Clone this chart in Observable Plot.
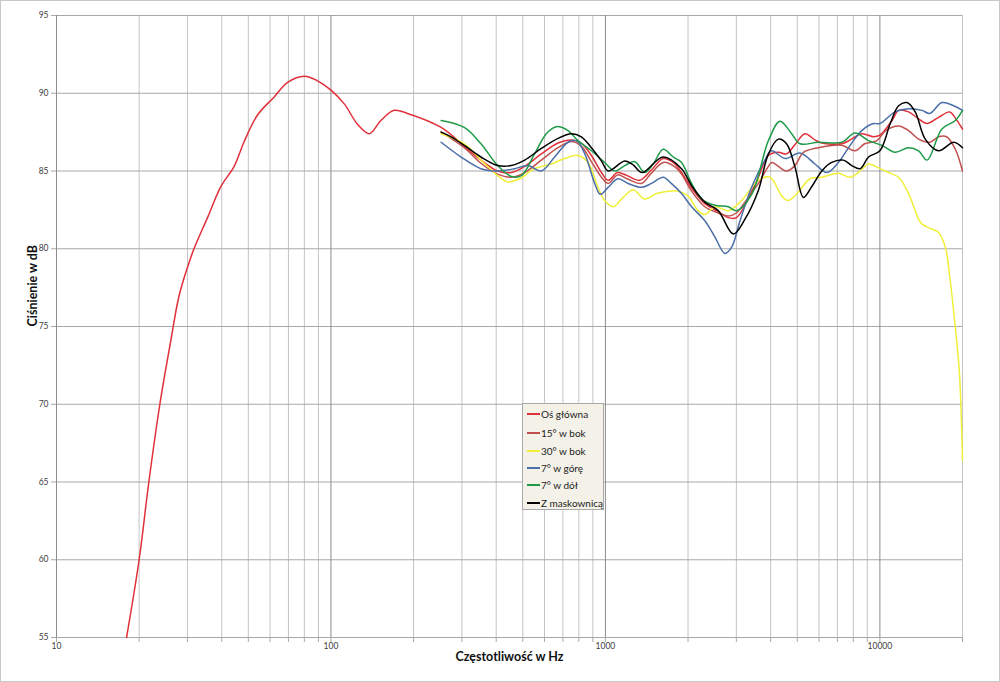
<!DOCTYPE html>
<html>
<head>
<meta charset="utf-8">
<script src="https://cdn.jsdelivr.net/npm/d3@7"></script>
<script src="https://cdn.jsdelivr.net/npm/@observablehq/plot@0.6"></script>
<style>
  body { margin: 0; background: #fff; }
  #wrap { position: relative; width: 1000px; height: 682px; overflow: hidden; font-family: Lato, "Open Sans", sans-serif; }
  #frame { position: absolute; left: 0; top: 0; width: 998px; height: 680px; border: 1px solid #c8c8c8; pointer-events: none; }
  #legend { position: absolute; left: 522px; top: 403px; width: 80px; height: 105px; background: #f3f1e8; border: 1px solid #a8a8a8; font-size: 10px; color: #222; }
  #legend .row { position: absolute; left: 4px; height: 12px; line-height: 12px; white-space: nowrap; }
  #legend .sw { display: inline-block; width: 13px; height: 2px; vertical-align: middle; margin-right: 1px; position: relative; top: -1px; }
</style>
</head>
<body>
<div id="wrap"><div id="frame"></div></div>
<script>
// ---- tick values ----
const yTicks = [55, 60, 65, 70, 75, 80, 85, 90, 95];
const xMajor = [10, 100, 1000, 10000];
const xMinor = [20, 30, 40, 50, 60, 70, 80, 90, 200, 300, 400, 500, 600, 700, 800, 900,
                2000, 3000, 4000, 5000, 6000, 7000, 8000, 9000, 20000];
const xLabels = ["10", "100", "1000", "10000"];

// ---- series (frequency in Hz, level in dB) ----
const seriesNames = ["Oś główna", "15° w bok", "30° w bok", "7° w górę", "7° w dół", "Z maskownicą"];
const seriesColors = ["#e0303a", "#c0504d", "#f0f03a", "#4a6fa8", "#1f9a48", "#000000"];

const fMain = [18, 20, 21.7, 23.8, 26.1, 27.9, 30, 31.7, 35.5, 39.7, 44.4, 48.3, 54, 62, 69.5, 80, 89.4, 100, 112, 125, 138, 152, 170, 190, 252,
  306, 352, 405, 454, 508, 584, 672, 751, 817, 889, 967, 1023, 1107, 1200, 1330, 1460, 1624, 1780, 1894, 2061, 2303, 2576, 2800, 3000, 3224, 3607, 3925,
  4270, 4570, 4906, 5333, 5800, 6143, 7262, 7800, 8590, 9480, 10000, 11070, 11700, 12720, 13840, 14850, 16360, 17970, 18830, 20000];
const dbMain = [55, 60, 65, 70, 74.1, 76.9, 78.8, 80, 82, 84, 85.3, 86.9, 88.6, 89.75, 90.7, 91.1, 90.8, 90.2, 89.3, 88, 87.4, 88.25, 88.9, 88.7, 87.8,
  86.6, 85.7, 85.0, 84.9, 85.3, 86.1, 86.8, 87.0, 86.8, 86.0, 84.9, 84.4, 84.9, 84.7, 84.4, 85.0, 85.8, 85.5, 84.9, 83.9, 82.9, 82.4, 82.0, 82.0, 82.8, 84.6, 86.0,
  86.2, 86.1, 86.7, 87.4, 87.0, 86.8, 86.75, 87.0, 87.4, 87.2, 87.3, 88.25, 88.9, 88.8, 88.35, 88.05, 88.45, 88.8, 88.4, 87.7];

const f15 = [252, 306, 352, 405, 454, 508, 584, 672, 751, 817, 889, 967, 1023, 1107, 1200, 1353, 1460, 1624, 1780, 1894, 2061, 2303, 2576, 2800, 3000, 3224, 3607, 3925,
  4037, 4570, 4906, 5266, 5970, 7262, 8125, 8800, 9750, 10500, 11700, 12720, 13840, 15200, 16360, 17500, 18830, 20000];
const db15 = [87.5, 86.5, 85.5, 84.8, 84.6, 84.9, 85.7, 86.5, 86.9, 86.6, 85.6, 84.6, 84.2, 84.75, 84.5, 84.2, 84.8, 85.55, 85.3, 84.8, 83.7, 82.7, 82.3, 82.1, 82.3, 83.0, 84.2, 85.3,
  85.55, 85.0, 85.35, 86.2, 86.5, 86.65, 86.3, 86.75, 86.95, 87.6, 87.9, 87.6, 87.05, 86.85, 87.2, 87.2, 86.4, 85.0];

const f30 = [252, 306, 352, 405, 441, 487, 552, 636, 710, 794, 864, 940, 994, 1067, 1160, 1262, 1391, 1535, 1693, 1842, 2000, 2178, 2303, 2507, 2806, 3135, 3607, 3980,
  4388, 4642, 5047, 5566, 6143, 7063, 7792, 8478, 9093, 9750, 10760, 11700, 12720, 13840, 14220, 15260, 16360, 17320, 17970, 18830, 19500, 20000];
const db30 = [87.4, 86.75, 85.7, 84.7, 84.3, 84.5, 85.15, 85.45, 85.8, 86.0, 85.55, 83.95, 83.1, 82.7, 83.3, 83.8, 83.2, 83.55, 83.7, 83.7, 83.4, 82.45, 82.2, 82.7, 82.45, 83.1, 84.4, 84.6,
  83.4, 83.1, 83.65, 84.5, 84.6, 84.85, 84.6, 85.0, 85.45, 85.25, 84.9, 84.6, 83.55, 81.9, 81.6, 81.3, 81.05, 80.1, 78.2, 74.95, 71.95, 66.4];

const fUp = [252, 298, 352, 405, 467, 522, 584, 653, 731, 783, 841, 914, 958, 1023, 1111, 1210, 1353, 1472, 1624, 1738, 1894, 2061, 2303, 2507, 2723, 2884, 3093, 3411, 3811,
  4037, 4513, 5116, 5802, 6410, 7063, 7792, 8590, 9480, 10000, 11370, 12720, 14220, 15200, 16830, 18570, 20000];
const dbUp = [86.85, 85.9, 85.15, 85.0, 85.15, 85.35, 85.0, 85.9, 86.85, 86.95, 86.1, 84.2, 83.5, 83.95, 84.5, 84.2, 83.95, 84.2, 84.6, 84.2, 83.55, 82.7, 81.8, 80.75, 79.7, 80.1, 81.8, 83.95, 85.7,
  86.3, 85.8, 86.15, 85.45, 84.9, 85.55, 86.65, 87.6, 88.05, 88.05, 88.8, 89.0, 88.9, 88.7, 89.4, 89.2, 88.9];

const fDown = [252, 306, 352, 405, 454, 494, 552, 609, 662, 731, 794, 889, 994, 1081, 1176, 1279, 1391, 1493, 1624, 1767, 1894, 2061, 2240, 2507, 2806, 3000, 3411, 3925,
  4325, 4770, 5116, 5970, 7262, 8125, 9093, 10160, 11370, 12720, 13840, 14850, 16830, 18830, 20000];
const dbDown = [88.25, 87.8, 86.75, 85.35, 84.65, 84.7, 86.1, 87.4, 87.85, 87.6, 86.95, 86.3, 85.55, 85.0, 85.35, 85.6, 84.9, 85.45, 86.4, 85.9, 85.55, 84.2, 83.2, 82.8, 82.7, 82.45, 83.5, 86.95,
  88.2, 87.4, 86.75, 86.85, 86.85, 87.45, 86.95, 86.65, 86.2, 86.5, 86.3, 85.7, 87.7, 88.25, 88.9];

const fGrille = [252, 274, 306, 352, 405, 454, 508, 584, 672, 751, 817, 889, 967, 1023, 1176, 1262, 1358, 1624, 1894, 2061, 2303, 2576, 2924, 3224, 3607, 3925,
  4266, 4570, 4906, 5266, 5650, 6143, 6675, 7364, 7900, 8478, 9093, 10000, 10910, 11700, 12550, 13450, 14630, 16360, 18570, 20000];
const dbGrille = [87.5, 87.2, 86.65, 85.9, 85.35, 85.35, 85.7, 86.45, 87.1, 87.4, 87.2, 86.5, 85.65, 85.0, 85.65, 85.4, 84.9, 85.9, 85.15, 84.05, 83.0, 82.45, 80.95, 81.9, 83.75, 86.1,
  87.05, 86.75, 85.25, 83.3, 84.0, 85.0, 85.55, 85.7, 85.35, 85.15, 85.9, 86.3, 88.05, 89.2, 89.4, 88.8, 87.05, 86.3, 86.85, 86.5];

const seriesF = [fMain, f15, f30, fUp, fDown, fGrille];
const seriesDb = [dbMain, db15, db30, dbUp, dbDown, dbGrille];

const rows = [];
seriesNames.forEach((name, i) => {
  seriesF[i].forEach((f, j) => rows.push({series: name, f, db: seriesDb[i][j]}));
});

const chart = Plot.plot({
  width: 1000,
  height: 682,
  marginLeft: 56,
  marginRight: 38,
  marginTop: 15,
  marginBottom: 45,
  style: {fontFamily: "Lato, 'Open Sans', sans-serif", fontSize: "8.5px", color: "#404040", background: "transparent"},
  x: {type: "log", domain: [10, 20000]},
  y: {domain: [55, 95]},
  color: {domain: seriesNames, range: seriesColors},
  marks: [
    Plot.ruleX(xMinor, {stroke: "#c4c4c4", strokeWidth: 1}),
    Plot.ruleY(yTicks, {stroke: "#a8a8a8", strokeWidth: 1}),
    Plot.ruleX(xMajor, {stroke: "#8c8c8c", strokeWidth: 1}),
    Plot.axisX({ticks: xMajor.concat(xMinor), tickSize: 5, tickFormat: () => "", label: null, stroke: "#a8a8a8"}),
    Plot.text(xMajor, {x: (d) => d, text: (d) => xLabels[xMajor.indexOf(d)], frameAnchor: "bottom", dy: 11, fill: "#404040", fontSize: 8.5}),
    Plot.axisY({ticks: yTicks, tickSize: 5, tickPadding: 3, label: null, stroke: "#a8a8a8"}),
    Plot.line(rows, {x: "f", y: "db", z: "series", stroke: "series", curve: "catmull-rom", strokeWidth: 1.5}),
    Plot.text(["Częstotliwość w Hz"], {frameAnchor: "bottom", dy: 23, fontWeight: "bold", fontSize: 12.5, fill: "#111"}),
    Plot.text(["Ciśnienie w dB"], {frameAnchor: "left", dx: -24, rotate: -90, fontWeight: "bold", fontSize: 12.5, fill: "#111"})
  ]
});
chart.style.position = "absolute";
chart.style.left = "0px";
chart.style.top = "0px";
const wrap = document.getElementById("wrap");
wrap.appendChild(chart);

// legend inside plot area
const legend = document.createElement("div");
legend.id = "legend";
const rowTops = [5, 23.5, 42, 58.5, 76, 94];
seriesNames.forEach((name, i) => {
  const r = document.createElement("div");
  r.className = "row";
  r.style.top = (rowTops[i] - 1) + "px";
  const sw = document.createElement("span");
  sw.className = "sw";
  sw.style.background = seriesColors[i];
  r.appendChild(sw);
  r.appendChild(document.createTextNode(name));
  legend.appendChild(r);
});
wrap.appendChild(legend);
</script>
</body>
</html>
